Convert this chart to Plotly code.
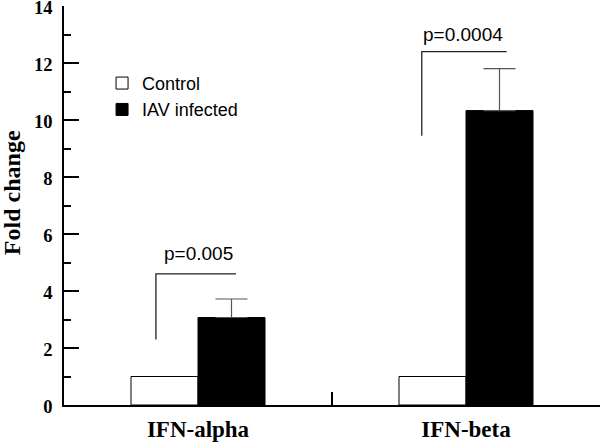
import plotly.graph_objects as go

categories = ["IFN-alpha", "IFN-beta"]
control_values = [1.0, 1.0]
infected_values = [3.07, 10.33]
infected_errors = [0.65, 1.47]
series_names = ["Control", "IAV infected"]

p_labels = ["p=0.005", "p=0.0004"]
bracket_top = [4.6, 12.4]
bracket_bottom = [2.3, 9.45]
bracket_left = [-0.157, 0.835]
bracket_right = [0.142, 1.152]
p_label_x = [0.0, 0.99]
p_label_y = [5.3, 13.0]

y_ticks = [0, 2, 4, 6, 8, 10, 12, 14]
y_title = "Fold change"

fig = go.Figure()
fig.add_trace(go.Bar(
    x=categories, y=control_values, name=series_names[0],
    marker=dict(color="white", line=dict(color="black", width=1)),
))
fig.add_trace(go.Bar(
    x=categories, y=infected_values, name=series_names[1],
    marker=dict(color="black", line=dict(color="black", width=1)),
    error_y=dict(type="data", array=infected_errors, symmetric=False,
                 arrayminus=[0, 0], color="#555555", thickness=1.2, width=16),
))

for i in range(len(p_labels)):
    fig.add_shape(type="path",
                  path=f"M {bracket_left[i]},{bracket_bottom[i]} L {bracket_left[i]},{bracket_top[i]} L {bracket_right[i]},{bracket_top[i]}",
                  xref="x", yref="y", line=dict(color="#222222", width=1.3))
    fig.add_annotation(x=p_label_x[i], y=p_label_y[i], text=p_labels[i],
                       showarrow=False, xref="x", yref="y",
                       font=dict(family="Liberation Sans", size=19, color="black"))

fig.add_annotation(x=-0.097, y=0.531, xref="paper", yref="paper", text=y_title,
                   textangle=-90, showarrow=False, xanchor="center", yanchor="middle",
                   font=dict(family="Liberation Serif", size=24, color="black", weight="bold"))

serif_bold = dict(family="Liberation Serif", color="black", weight="bold")

fig.update_layout(
    width=601, height=442,
    margin=dict(l=64, r=1, t=5.5, b=36.5, autoexpand=False),
    plot_bgcolor="white", paper_bgcolor="white",
    barmode="group", bargap=0.5, bargroupgap=0,
    showlegend=True,
    legend=dict(x=0.071, y=0.8525, xanchor="left", yanchor="top",
                bgcolor="rgba(0,0,0,0)",
                font=dict(family="Liberation Sans", size=18, color="black"),
                tracegroupgap=0),
    xaxis=dict(
        type="category", range=[-0.5, 1.5], automargin=False,
        showline=True, linecolor="black", linewidth=1.5,
        ticks="inside", tickson="boundaries", ticklen=13, tickcolor="black", tickwidth=1.5,
        tickfont=dict(size=23, **serif_bold), ticklabelstandoff=3,
        showgrid=False, zeroline=False,
    ),
    yaxis=dict(
        range=[0, 14], tickvals=y_ticks, automargin=False,
        showline=True, linecolor="black", linewidth=1.5,
        ticks="inside", ticklen=15, tickcolor="black", tickwidth=1.5,
        minor=dict(dtick=1, tick0=0, ticks="inside", ticklen=7, tickcolor="black", tickwidth=1.5, showgrid=False),
        tickfont=dict(size=18.5, **serif_bold), ticklabelstandoff=6, ticklabelshift=2,
        ticklabeloverflow="allow",
        showgrid=False, zeroline=False,
    ),
)

fig.write_html("out.html", config={"displayModeBar": False},
               post_script="document.body.style.margin='0';document.body.style.overflow='hidden';")
